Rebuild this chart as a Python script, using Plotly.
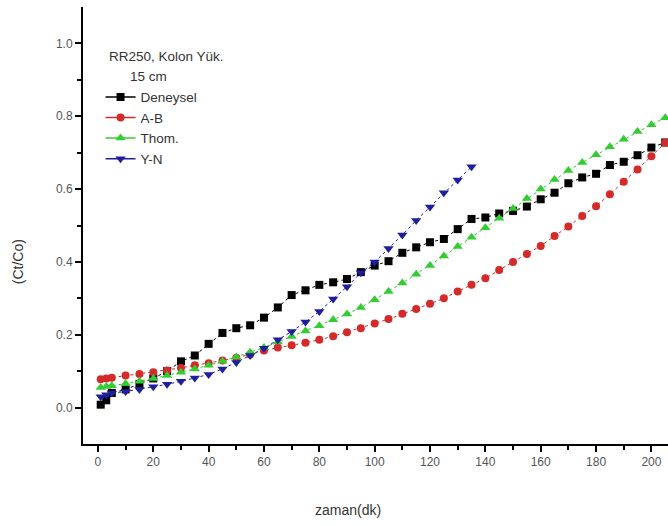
import plotly.graph_objects as go

# Sampling times (min)
t_exp = [1, 3, 5, 10, 15, 20, 25, 30, 35, 40, 45, 50, 55, 60, 65, 70, 75, 80, 85, 90,
         95, 100, 105, 110, 115, 120, 125, 130, 135, 140, 145, 150, 155, 160, 165, 170,
         175, 180, 185, 190, 195, 200, 205]
t_yn = t_exp[:29]

# Ct/Co values
deneysel = [0.008, 0.02, 0.04, 0.05, 0.065, 0.08, 0.10, 0.127, 0.143, 0.175, 0.205, 0.218,
            0.226, 0.247, 0.275, 0.309, 0.322, 0.337, 0.344, 0.353, 0.372, 0.39, 0.402,
            0.425, 0.44, 0.454, 0.463, 0.49, 0.518, 0.522, 0.533, 0.54, 0.552, 0.572,
            0.59, 0.616, 0.632, 0.642, 0.666, 0.675, 0.693, 0.714, 0.728]
a_b = [0.078, 0.08, 0.082, 0.088, 0.092, 0.097, 0.102, 0.109, 0.116, 0.122, 0.129, 0.137,
       0.146, 0.157, 0.165, 0.171, 0.178, 0.186, 0.196, 0.207, 0.218, 0.231, 0.243, 0.258,
       0.271, 0.285, 0.3, 0.319, 0.337, 0.355, 0.378, 0.4, 0.422, 0.444, 0.471, 0.497,
       0.526, 0.553, 0.586, 0.62, 0.654, 0.69, 0.727]
thom = [0.055, 0.058, 0.06, 0.066, 0.072, 0.08, 0.088, 0.097, 0.106, 0.116, 0.127, 0.139,
        0.152, 0.165, 0.18, 0.195, 0.21, 0.225, 0.241, 0.257, 0.275, 0.296, 0.319, 0.342,
        0.366, 0.39, 0.416, 0.442, 0.468, 0.494, 0.52, 0.547, 0.574, 0.6, 0.626, 0.651,
        0.673, 0.694, 0.716, 0.737, 0.758, 0.777, 0.796]
y_n = [0.03, 0.035, 0.04, 0.044, 0.05, 0.057, 0.064, 0.072, 0.081, 0.091, 0.106, 0.124,
       0.143, 0.163, 0.186, 0.209, 0.235, 0.264, 0.298, 0.332, 0.37, 0.4, 0.437, 0.474,
       0.514, 0.551, 0.59, 0.625, 0.661]

series = [
    ("Deneysel", t_exp, deneysel, "#000000", "square", 8),
    ("A-B", t_exp, a_b, "#d42a2a", "circle", 8),
    ("Thom.", t_exp, thom, "#33cc33", "triangle-up", 9),
    ("Y-N", t_yn, y_n, "#1f1f9e", "triangle-down", 9),
]

fig = go.Figure()
for name, x, y, color, symbol, size in series:
    marker = dict(color=color, symbol=symbol, size=size, line=dict(width=0))
    # data drawn with a thin dotted connector
    fig.add_trace(go.Scatter(
        x=x, y=y, name=name, mode="lines+markers", showlegend=False,
        line=dict(color=color, width=1, dash="dot"), marker=marker,
    ))
    # legend key with a solid line through the symbol
    fig.add_trace(go.Scatter(
        x=[None], y=[None], name=name, mode="lines+markers",
        line=dict(color=color, width=1.5), marker=marker,
    ))

font_family = "Liberation Sans, Arial, sans-serif"
tick_font = dict(family=font_family, size=12, color="#555555")
label_font = dict(family=font_family, size=14, color="#333333")

fig.update_layout(
    width=668, height=526,
    margin=dict(l=83, r=0, t=7, b=82),
    paper_bgcolor="white", plot_bgcolor="white",
    showlegend=True,
    legend=dict(
        x=0.03, y=0.829, xanchor="left", yanchor="top",
        bgcolor="rgba(0,0,0,0)",
        font=dict(family=font_family, size=13.5, color="#333333"),
        tracegroupgap=0,
    ),
    xaxis=dict(
        range=[-5.4, 206], showgrid=False, zeroline=False,
        showline=True, linecolor="black", linewidth=2,
        ticks="outside", ticklen=6, tickwidth=2, tickcolor="black",
        dtick=20, tick0=0, tickfont=tick_font,
        minor=dict(dtick=10, tick0=0, ticks="outside", ticklen=4, tickwidth=2,
                   tickcolor="black", showgrid=False),
    ),
    yaxis=dict(
        range=[-0.1, 1.1], showgrid=False, zeroline=False,
        showline=True, linecolor="black", linewidth=2,
        ticks="outside", ticklen=6, tickwidth=2, tickcolor="black",
        tickvals=[0, 0.2, 0.4, 0.6, 0.8, 1.0], tickformat=".1f", tickfont=tick_font,
        minor=dict(tickvals=[0.1, 0.3, 0.5, 0.7, 0.9], ticks="outside", ticklen=4,
                   tickwidth=2, tickcolor="black", showgrid=False),
    ),
    annotations=[
        dict(text="RR250, Kolon Yük.", x=0.041, y=0.886, xref="paper", yref="paper",
             xanchor="left", yanchor="middle", showarrow=False,
             font=dict(family=font_family, size=13.5, color="#333333")),
        dict(text="15 cm", x=0.077, y=0.84, xref="paper", yref="paper",
             xanchor="left", yanchor="middle", showarrow=False,
             font=dict(family=font_family, size=13.5, color="#333333")),
        dict(text="zaman(dk)", x=0.453, y=-0.151, xref="paper", yref="paper",
             xanchor="center", yanchor="middle", showarrow=False, font=label_font),
        dict(text="(Ct/Co)", x=-0.111, y=0.416, xref="paper", yref="paper",
             xanchor="center", yanchor="middle", showarrow=False, textangle=-90,
             font=label_font),
    ],
)

fig.write_html("out.html")
